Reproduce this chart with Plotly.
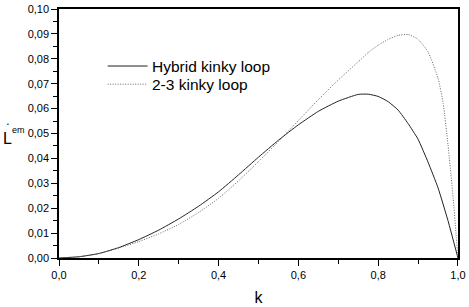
import plotly.graph_objects as go

k_hybrid = [0.0, 0.05, 0.1, 0.15, 0.2, 0.25, 0.3, 0.35, 0.4, 0.45, 0.5, 0.55, 0.6, 0.65, 0.7,
            0.75, 0.775, 0.8, 0.825, 0.85, 0.875, 0.9, 0.925, 0.95, 0.975, 1.0]
L_hybrid = [0.0, 0.0005, 0.0018, 0.0042, 0.0074, 0.0112, 0.0157, 0.0208, 0.0266, 0.0334, 0.0405,
            0.0473, 0.0535, 0.0589, 0.0630, 0.0657, 0.0658, 0.0649, 0.0628, 0.0594, 0.0540, 0.0477,
            0.0385, 0.0282, 0.0150, 0.0]

k_23 = [0.0, 0.05, 0.1, 0.15, 0.2, 0.25, 0.3, 0.35, 0.4, 0.45, 0.5, 0.55, 0.6, 0.65, 0.7, 0.75,
        0.775, 0.8, 0.825, 0.85, 0.875, 0.9, 0.925, 0.95, 0.963, 0.975, 0.988, 0.995, 1.0]
L_23 = [0.0, 0.0005, 0.0018, 0.0040, 0.0066, 0.0097, 0.0135, 0.0183, 0.0240, 0.0310, 0.0387,
        0.0468, 0.0552, 0.0636, 0.0715, 0.0788, 0.0825, 0.0855, 0.0878, 0.0894, 0.0898, 0.0878,
        0.0828, 0.0722, 0.0620, 0.0455, 0.0240, 0.0100, 0.0]

series_names = ["Hybrid kinky loop", "2-3 kinky loop"]
line_colors = ["#222222", "#666666"]

fig = go.Figure()
fig.add_trace(go.Scatter(x=k_hybrid, y=L_hybrid, mode="lines", name=series_names[0],
                         showlegend=False,
                         line=dict(color=line_colors[0], width=1, shape="spline", smoothing=0.5)))
fig.add_trace(go.Scatter(x=k_23, y=L_23, mode="lines", name=series_names[1],
                         showlegend=False,
                         line=dict(color=line_colors[1], width=1, dash="1px,1.5px",
                                   shape="spline", smoothing=0.5)))

font_family = "Liberation Sans, Arial, sans-serif"

fig.update_layout(
    width=469, height=307,
    margin=dict(l=59, r=9, t=3, b=46),
    paper_bgcolor="white", plot_bgcolor="white",
    separators=", ",
    font=dict(family=font_family, size=11, color="black"),
    showlegend=False,
    xaxis=dict(range=[0, 1.0001], showgrid=False, zeroline=False,
               showline=True, linecolor="black", linewidth=1.5, mirror=True,
               ticks="outside", ticklen=6, tickwidth=1, tickcolor="black",
               tick0=0, dtick=0.2, tickformat=".1f", ticklabeloverflow="allow",
               minor=dict(ticks="outside", ticklen=4, dtick=0.1, tickcolor="black", showgrid=False),
               title=dict(text="k", font=dict(size=16), standoff=12)),
    yaxis=dict(range=[0, 0.10001], showgrid=False, zeroline=False,
               showline=True, linecolor="black", linewidth=1.5, mirror=True,
               ticks="outside", ticklen=6, tickwidth=1, tickcolor="black",
               tick0=0, dtick=0.01, tickformat=".2f", ticklabeloverflow="allow",
               minor=dict(ticks="outside", ticklen=4, dtick=0.005, tickcolor="black", showgrid=False)),
)

# Legend (drawn in paper coordinates)
legend_y = [0.771, 0.698]
legend_dash = ["solid", "1px,1.5px"]
for i, name in enumerate(series_names):
    fig.add_shape(type="line", xref="paper", yref="paper",
                  x0=0.122, x1=0.222, y0=legend_y[i], y1=legend_y[i],
                  line=dict(color=line_colors[i], width=1, dash=legend_dash[i]))
    fig.add_annotation(text=name, xref="paper", yref="paper", x=0.228, y=legend_y[i],
                       xanchor="left", yanchor="middle", showarrow=False,
                       font=dict(size=15.5, color="black"))

# Y axis title: L-dot with superscript "em"
fig.add_annotation(text="L", xref="paper", yref="paper", x=-0.130, y=0.481,
                   xanchor="center", yanchor="middle", showarrow=False,
                   font=dict(size=16, color="black"))
fig.add_annotation(text="•", xref="paper", yref="paper", x=-0.128, y=0.537,
                   xanchor="center", yanchor="middle", showarrow=False,
                   font=dict(size=5, color="black"))
fig.add_annotation(text="em", xref="paper", yref="paper", x=-0.102, y=0.516,
                   xanchor="center", yanchor="middle", showarrow=False,
                   font=dict(size=9, color="black"))

fig.write_html("out.html", config={"displayModeBar": False},
               post_script="document.body.style.margin='0';")
